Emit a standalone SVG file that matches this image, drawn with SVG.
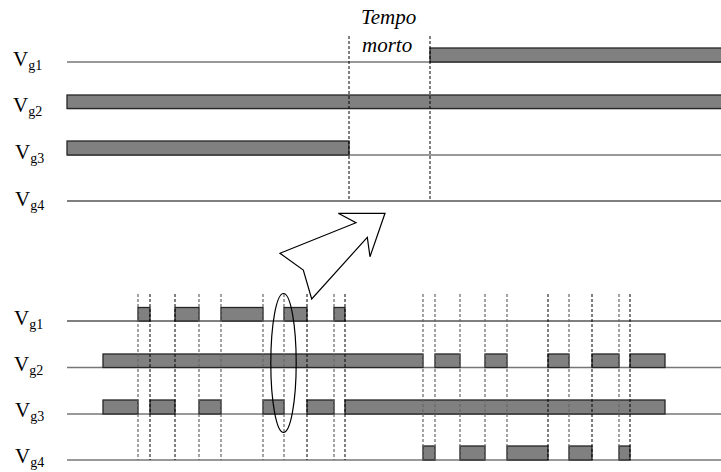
<svg xmlns="http://www.w3.org/2000/svg" width="721" height="472" viewBox="0 0 721 472">
<style>
.lbl{font-family:"Liberation Serif","Times New Roman",serif;font-size:21px;fill:#000}
.sub{font-size:14px}
.it{font-family:"Liberation Serif","Times New Roman",serif;font-size:21px;font-style:italic;fill:#000}
.bar{fill:#808080;stroke:#262626;stroke-width:1.3}
.base{stroke:#000;stroke-width:1.2;fill:none}
.baseg{stroke:#777;stroke-width:1.3;fill:none}
.dash{stroke:#000;stroke-width:1;stroke-dasharray:3 2;fill:none}
.dashg{stroke:#666;stroke-width:1.2;stroke-dasharray:3 2;fill:none}
.outline{fill:#fff;stroke:#000;stroke-width:1.2}
</style>
<rect width="721" height="472" fill="#fff"/>

<g id="labels-top">
<text class="lbl" x="13" y="66">V<tspan class="sub" dy="4">g1</tspan></text>
<text class="lbl" x="13" y="112">V<tspan class="sub" dy="4">g2</tspan></text>
<text class="lbl" x="15" y="159">V<tspan class="sub" dy="4">g3</tspan></text>
<text class="lbl" x="15" y="206">V<tspan class="sub" dy="4">g4</tspan></text>
<text class="it" x="361" y="24">Tempo</text>
<text class="it" x="362" y="52">morto</text>
</g>

<g id="top-vg1">
<line class="baseg" x1="67" y1="62" x2="721" y2="62"/>
<rect class="bar" x="430" y="48" width="292" height="14"/>
</g>
<g id="top-vg2">
<line class="baseg" x1="67" y1="108.5" x2="721" y2="108.5"/>
<rect class="bar" x="67" y="95" width="655" height="13.5"/>
</g>
<g id="top-vg3">
<line class="baseg" x1="67" y1="155" x2="721" y2="155"/>
<rect class="bar" x="67" y="141" width="282" height="14"/>
</g>
<g id="top-vg4">
<line class="base" x1="67" y1="201" x2="721" y2="201"/>
</g>
<g id="top-dashes">
<line class="dash" x1="349" y1="36" x2="349" y2="201"/>
<line class="dash" x1="430" y1="36" x2="430" y2="201"/>
</g>

<g id="arrow">
<polygon class="outline" points="280,253.3 356,222.7 338.3,213.3 385,213.3 370,256.7 367.3,237.3 311.7,299 303.3,270"/>
</g>

<g id="labels-bottom">
<text class="lbl" x="14" y="325">V<tspan class="sub" dy="4">g1</tspan></text>
<text class="lbl" x="14" y="371">V<tspan class="sub" dy="4">g2</tspan></text>
<text class="lbl" x="15" y="417">V<tspan class="sub" dy="4">g3</tspan></text>
<text class="lbl" x="15" y="463">V<tspan class="sub" dy="4">g4</tspan></text>
</g>

<g id="bot-vg1">
<line class="base" x1="67" y1="321" x2="721" y2="321"/>
<rect class="bar" x="138" y="307.5" width="12" height="13.5"/>
<rect class="bar" x="175" y="307.5" width="24" height="13.5"/>
<rect class="bar" x="221" y="307.5" width="42" height="13.5"/>
<rect class="bar" x="284" y="307.5" width="23" height="13.5"/>
<rect class="bar" x="334" y="307.5" width="11" height="13.5"/>
</g>
<g id="bot-vg2">
<line class="baseg" x1="67" y1="367.5" x2="721" y2="367.5"/>
<rect class="bar" x="103" y="354" width="320" height="13.5"/>
<rect class="bar" x="435" y="354" width="25" height="13.5"/>
<rect class="bar" x="485" y="354" width="22" height="13.5"/>
<rect class="bar" x="548" y="354" width="21" height="13.5"/>
<rect class="bar" x="592" y="354" width="27" height="13.5"/>
<rect class="bar" x="630" y="354" width="35" height="13.5"/>
</g>
<g id="bot-vg3">
<line class="baseg" x1="67" y1="414" x2="721" y2="414"/>
<rect class="bar" x="103" y="400" width="35" height="14"/>
<rect class="bar" x="150" y="400" width="25" height="14"/>
<rect class="bar" x="199" y="400" width="22" height="14"/>
<rect class="bar" x="263" y="400" width="21" height="14"/>
<rect class="bar" x="307" y="400" width="27" height="14"/>
<rect class="bar" x="345" y="400" width="320" height="14"/>
</g>
<g id="bot-vg4">
<line class="baseg" x1="67" y1="460" x2="721" y2="460"/>
<rect class="bar" x="423" y="446" width="12" height="14"/>
<rect class="bar" x="460" y="446" width="25" height="14"/>
<rect class="bar" x="507" y="446" width="41" height="14"/>
<rect class="bar" x="569" y="446" width="23" height="14"/>
<rect class="bar" x="619" y="446" width="11" height="14"/>
</g>

<g id="connectors">
<line class="dashg" x1="138" y1="294" x2="138" y2="460"/>
<line class="dash" x1="150" y1="294" x2="150" y2="460"/>
<line class="dash" x1="175" y1="294" x2="175" y2="460"/>
<line class="dashg" x1="199" y1="294" x2="199" y2="460"/>
<line class="dashg" x1="221" y1="294" x2="221" y2="460"/>
<line class="dashg" x1="263" y1="294" x2="263" y2="460"/>
<line class="dashg" x1="284" y1="294" x2="284" y2="460"/>
<line class="dash" x1="307" y1="294" x2="307" y2="460"/>
<line class="dashg" x1="334" y1="294" x2="334" y2="460"/>
<line class="dash" x1="345" y1="294" x2="345" y2="460"/>
<line class="dashg" x1="423" y1="294" x2="423" y2="460"/>
<line class="dashg" x1="435" y1="294" x2="435" y2="460"/>
<line class="dashg" x1="460" y1="294" x2="460" y2="460"/>
<line class="dashg" x1="485" y1="294" x2="485" y2="460"/>
<line class="dashg" x1="507" y1="294" x2="507" y2="460"/>
<line class="dash" x1="548" y1="294" x2="548" y2="460"/>
<line class="dashg" x1="569" y1="294" x2="569" y2="460"/>
<line class="dash" x1="592" y1="294" x2="592" y2="460"/>
<line class="dashg" x1="619" y1="294" x2="619" y2="460"/>
<line class="dash" x1="630" y1="294" x2="630" y2="460"/>
</g>

<g id="highlight">
<ellipse cx="283.5" cy="363" rx="12.7" ry="69.5" fill="none" stroke="#000" stroke-width="1.2"/>
</g>
</svg>
